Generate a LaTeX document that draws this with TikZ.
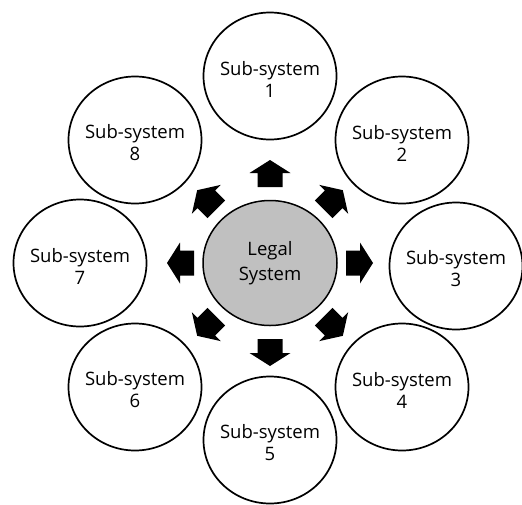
\documentclass[tikz,border=0pt]{standalone}
\usepackage{fontspec}
\setmainfont{Open Sans}
\usetikzlibrary{shapes.geometric,calc}
\definecolor{legalgray}{RGB}{192,192,192}
\tikzset{
  subsys/.style={ellipse, draw=black, line width=1.7pt, fill=white,
    minimum width=133pt, minimum height=127pt, inner sep=0pt},
  legal/.style={ellipse, draw=black, line width=1.5pt, fill=legalgray,
    minimum width=134pt, minimum height=125pt, inner sep=0pt},
  subtext/.style={align=center, inner sep=0pt, font=\fontsize{18.5}{22}\selectfont},
  legaltext/.style={align=center, inner sep=0pt, font=\fontsize{18.5}{25}\selectfont},
  blockarrow/.pic={\fill[black] (0,-12.5) -- (14,-12.5) -- (14,-20.5) -- (27,0) -- (14,20.5) -- (14,12.5) -- (0,12.5) -- cycle;}
}
\begin{document}
\begin{tikzpicture}[x=1pt,y=1pt]
\useasboundingbox (0,0) rectangle (522,-504);
\node[legal] (legal) at (270,-263) {};
\node[legaltext] (tl) at (legal) {Legal\\System};
\node[subsys] (s1) at (270,-76) {};
\node[subsys] (s2) at (402,-140) {};
\node[subsys] (s3) at (456,-266) {};
\node[subsys] (s4) at (402,-387) {};
\node[subsys] (s5) at (270,-440) {};
\node[subsys] (s6) at (135,-387) {};
\node[subsys] (s7) at (80,-263) {};
\node[subsys] (s8) at (135,-140) {};
\foreach \i in {1,...,8}{
  \node[subtext] (t\i) at ($(s\i)+(0,-3)$) {Sub-system\\\i};
}
\foreach \a in {0,45,...,315}{
  \pic[rotate=\a] at ($(legal.center)+(\a:76)$) {blockarrow};
}
\end{tikzpicture}
\end{document}
